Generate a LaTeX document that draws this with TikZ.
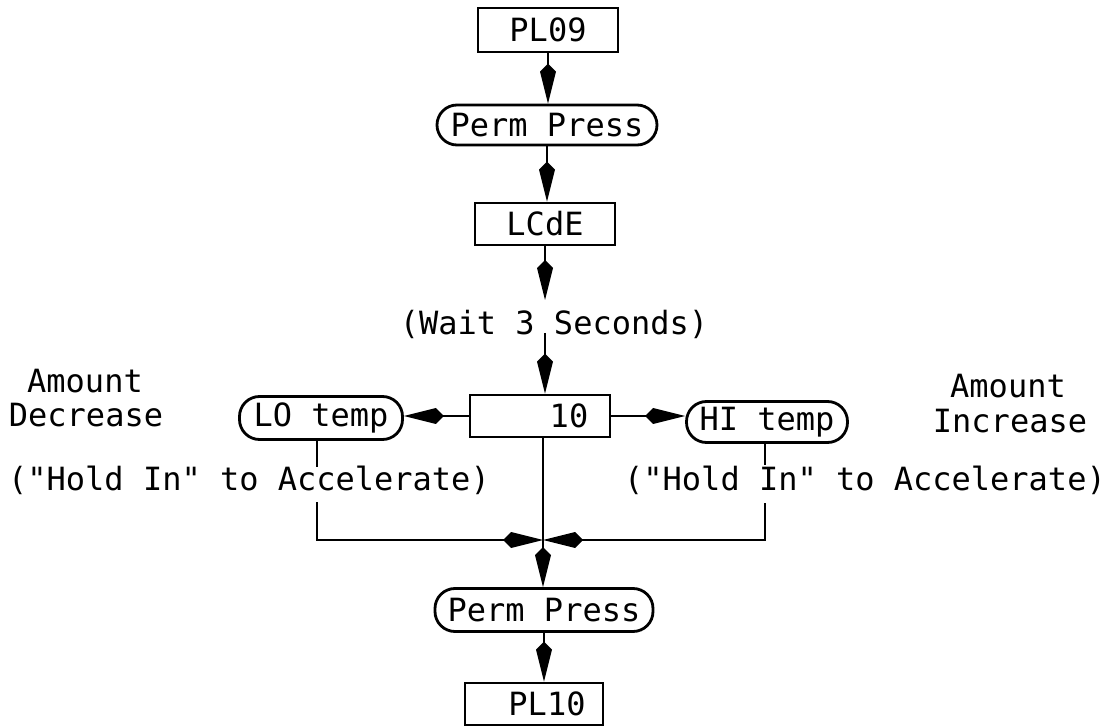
\documentclass[tikz,border=0pt]{standalone}
\usepackage{fontspec}
\setmonofont{DejaVu Sans Mono}
\usetikzlibrary{arrows.meta}
\begin{document}
\begin{tikzpicture}[x=1pt,y=-1pt,line width=2.8pt,
  every node/.style={font=\ttfamily\fontsize{32}{34}\selectfont,inner sep=0pt},
  sqbox/.style={draw,rectangle,line width=2.8pt},
  rbox/.style={draw,rectangle,rounded corners=20pt,line width=2.8pt},
  arr/.style={-{Kite[length=40pt,width=16pt,inset=8pt]}},
  lbl/.style={anchor=base}]
\useasboundingbox (0,0) rectangle (1112,727);
% nodes
\node[sqbox,minimum width=140pt,minimum height=44pt] (pl09) at (548,30) {PL09};
\node[rbox,minimum width=220pt,minimum height=40pt] (pp1) at (547,125) {Perm Press};
\node[sqbox,minimum width=140pt,minimum height=42pt] (lcde) at (545,224) {LCdE};
\node[lbl] (wait) at (554,335) {(Wait 3 Seconds)};
\node[sqbox,minimum width=140pt,minimum height=42pt] (ten) at (540,416) {\hspace*{58pt}10};
\node[rbox,minimum width=163pt,minimum height=43pt] (lo) at (321,418) {LO temp};
\node[rbox,minimum width=161pt,minimum height=41pt] (hi) at (767,422) {HI temp};
\node[rbox,minimum width=218pt,minimum height=43pt] (pp2) at (544,610) {Perm Press};
\node[sqbox,minimum width=138pt,minimum height=42pt] (pl10) at (534,704) {\hspace*{26pt}PL10};
% side labels
\node[lbl] (amtl) at (85,393) {Amount};
\node[lbl] (decl) at (86,427) {Decrease};
\node[lbl] (amtr) at (1008,398) {Amount};
\node[lbl] (incr) at (1010,432) {Increase};
\node[lbl] (holdl) at (249,490) {("Hold In" to Accelerate)};
\node[lbl] (holdr) at (865,490) {("Hold In" to Accelerate)};
% helper coordinates
\coordinate (w1) at (545,300);
\coordinate (w2) at (545,333);
\coordinate (lo1) at (317,467);
\coordinate (lo2) at (317,502);
\coordinate (hi1) at (765,465);
\coordinate (hi2) at (765,503);
\coordinate (j) at (543,540);
% connectors
\draw[arr] (pl09.south) -- (pl09.south |- pp1.north);
\draw[arr] (pp1.south) -- (pp1.south |- lcde.north);
\draw[arr] (lcde.south) -- (w1);
\draw[arr] (w2) -- (w2 |- ten.north);
\draw[arr] (ten.west) -- (ten.west -| lo.east);
\draw[arr] (ten.east) -- (ten.east -| hi.west);
\draw (lo.south -| lo1) -- (lo1);
\draw[arr] (lo2) -- (lo2 |- j) -- (j);
\draw (hi.south -| hi1) -- (hi1);
\draw[arr] (hi2) -- (hi2 |- j) -- (j);
\draw[arr] (ten.south -| j) -- (j |- pp2.north);
\draw[arr] (pp2.south) -- (pp2.south |- pl10.north);
\end{tikzpicture}
\end{document}
